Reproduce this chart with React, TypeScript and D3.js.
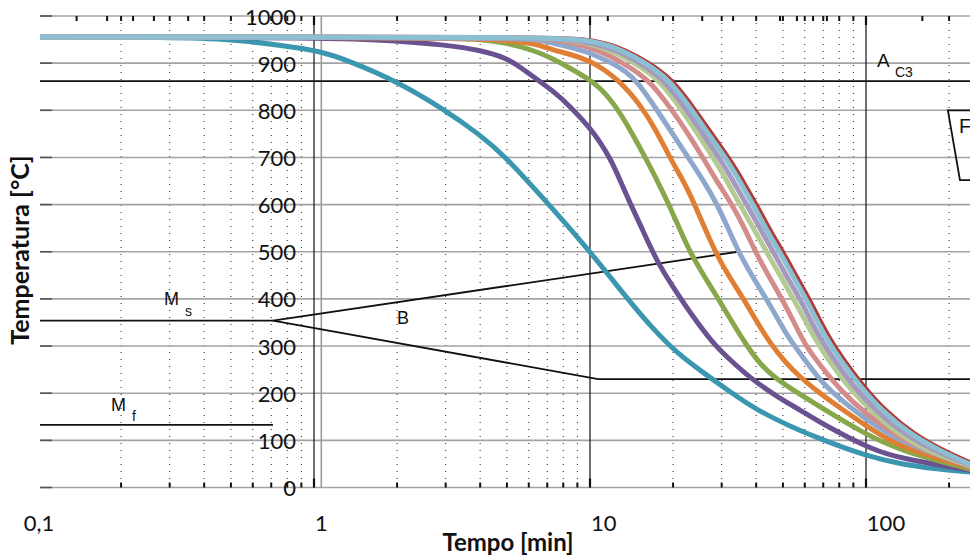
import React from "react";
import * as d3 from "d3";

// ---- data ----
const yTicks = [0, 100, 200, 300, 400, 500, 600, 700, 800, 900, 1000];
const xMajor = [0.1, 1, 10, 100];
const xMajorLabels = ["0,1", "1", "10", "100"];
const minorMultipliers = [2, 3, 4, 5, 6, 7, 8, 9];
const topExtraTicks = [0.138, 0.178, 0.221, 0.263, 0.35, 11.6, 18.4, 25.5, 33, 48.8, 56.2, 64.3, 72.2, 160];

const Ac3 = 862;
const MsTemp = 354;
const MfTemp = 133;
const MsEndTime = 0.71;
const bainiteUpper: [number, number][] = [[0.71, 354], [34.4, 500]];
const bainiteLower: [number, number][] = [[0.71, 354], [10.7, 230], [300, 230]];
const ferriteBox: [number, number][] = [[300, 800], [198, 800], [219, 652], [300, 652]];

type Pt = [number, number];
const teal: Pt[] = [[0.1, 955.5], [0.301, 955], [0.509, 951], [0.772, 937], [1.051, 926], [1.35, 904], [1.99, 862], [2.958, 802], [3.995, 748], [4.92, 703], [6.81, 612], [9.84, 506], [13.5, 404], [16.92, 336], [20.84, 283], [25.67, 244], [31.62, 206], [40.28, 164], [53.04, 130], [68.13, 103], [100, 67], [132.8, 50], [180, 39], [245, 32]];
const purple: Pt[] = [[0.1, 955.5], [1.2, 954.4], [1.99, 947.6], [3.008, 938.5], [3.995, 927.9], [4.99, 910.9], [5.58, 891.8], [6.48, 864.3], [7.34, 840.9], [8.46, 809.1], [10, 762.5], [10.87, 732.8], [11.82, 698.8], [12.85, 652.2], [13.96, 603.4], [15.18, 558.8], [17.49, 478.3], [20.32, 418.9], [23.62, 362.2], [27.67, 308.6], [31.36, 276.8], [37.98, 232.2], [47.6, 192.6], [57.67, 164.4], [72.23, 129], [106, 79.5], [132.8, 61.9], [245, 35]];
const green: Pt[] = [[0.1, 955.5], [3.008, 954.4], [3.995, 951.2], [4.99, 942.7], [5.58, 935.3], [6.48, 923.6], [7.34, 908.8], [8.46, 889.7], [10, 864.3], [10.87, 847.3], [11.82, 824], [12.85, 794.3], [14.2, 751.9], [15.82, 701], [17.64, 647.9], [19.5, 594.9], [21.19, 546.1], [23.03, 499.5], [25.88, 448.6], [29.09, 401.3], [32.7, 351], [37.05, 300.1], [41.3, 261.9], [46.8, 232.2], [56.7, 200], [74.07, 158], [95.12, 119.8], [132.8, 77.4], [245, 37]];
const orange: Pt[] = [[0.1, 955.5], [3.995, 954.4], [5.58, 945.5], [6.59, 938.5], [7.34, 927.9], [8.46, 919.4], [10, 904.6], [11.33, 885.5], [12.85, 860], [13.96, 836.7], [15.18, 811.2], [17.2, 762.5], [19.5, 698.8], [21.19, 662.8], [23.03, 622.5], [25.03, 573.7], [27.21, 524.9], [29.58, 480.4], [32.7, 438], [35.84, 401.9], [40.28, 351], [44.9, 306.5], [50.87, 266.2], [57.67, 234.4], [67, 202.5], [82.54, 164.4], [99.2, 132.6], [119.2, 102.9], [144.3, 79.5], [245, 40]];
const steel: Pt[] = [[0.1, 955.5], [5, 954.4], [6.59, 949.1], [7.34, 942.7], [8.46, 934.3], [10, 921.5], [10.87, 912], [12.02, 900.3], [13.39, 883.4], [14.8, 862.1], [17.49, 800.6], [19.82, 751.9], [22.65, 700.9], [25.67, 652.2], [28.85, 601.3], [31.62, 550.4], [34.39, 501.6], [38.63, 448.6], [43.79, 397.7], [48.4, 353.1], [53.04, 312.8], [60.12, 270.4], [68.13, 228], [75.94, 200.4], [87.5, 170.7], [103.4, 138.9], [127.4, 105], [156.9, 81.7], [245, 42]];
const pink: Pt[] = [[0.1, 955.5], [6.06, 954.4], [7.79, 949.1], [10, 934.3], [11.82, 915.2], [13.96, 891.8], [16.5, 862.1], [19.82, 800.6], [22.46, 754], [25.46, 703.1], [28.6, 652.2], [32.97, 597], [36.43, 548.2], [39.6, 501.6], [44.16, 450.7], [49.6, 399.8], [54.83, 351], [60.12, 302.2], [68.13, 259.8], [81.85, 202.5], [99.2, 158], [132.8, 105], [170.6, 75.3], [245, 43]];
const lightGreen: Pt[] = [[0.1, 955.5], [6.59, 954.4], [8.46, 949.1], [10.87, 936.4], [12.85, 917.3], [15.18, 894], [17.93, 862.1], [21.54, 800.6], [24.42, 751.9], [27.9, 700.9], [31.36, 650], [34.95, 599.2], [39.28, 548.2], [43.79, 497.3], [49.2, 446.5], [54.83, 397.7], [60.12, 355.2], [65.35, 315], [74.07, 266.2], [86.79, 211], [107.8, 153.8], [137.3, 105], [177.8, 71], [245, 44]];
const lavender: Pt[] = [[0.1, 955.5], [7.16, 954.4], [9.2, 948], [11.82, 933.2], [13.96, 913], [16.22, 889.7], [18.7, 862.1], [22.46, 800.6], [25.67, 749.7], [29.58, 696.7], [33.53, 643.7], [37.37, 594.9], [41.65, 546.1], [46.42, 497.3], [51.73, 446.5], [57.67, 399.8], [62.68, 357.4], [68.13, 317.1], [77.22, 268.3], [89.73, 215.3], [110.5, 158], [140.8, 109.2], [180.8, 75.3], [245, 45]];
const lightBlue: Pt[] = [[0.1, 955.5], [7.79, 955.5], [10, 948], [12.32, 934.3], [14.56, 913], [16.92, 889.7], [19.5, 862.1], [23.42, 800.6], [27, 747.6], [31.36, 694.6], [35.53, 641.6], [39.6, 592.8], [43.79, 544], [49.2, 495.2], [54.83, 444.3], [60.62, 399.8], [65.9, 357.4], [71.63, 317.1], [81.18, 268.3], [94.33, 217.4], [115.2, 160.1], [144.3, 113.5], [185.4, 77.4], [245, 46]];
const redEdge: Pt[] = [[0.1, 955.5], [8, 955.5], [10.25, 948], [12.63, 934.3], [14.93, 913], [17.35, 889.7], [20, 862.1], [24, 800.6], [27.7, 747.6], [32.15, 694.6], [36.43, 641.6], [40.6, 592.8], [44.9, 544], [50.44, 495.2], [56.2, 444.3], [62.15, 399.8], [67.57, 357.4], [73.45, 317.1], [83.23, 268.3], [96.7, 217.4], [118.1, 160.1], [148, 113.5], [190, 77.4], [250, 47]];

const curves: { data: Pt[]; color: string; width: number }[] = [
  { data: redEdge, color: "#b23a36", width: 5 },
  { data: teal, color: "#3b97b0", width: 5 },
  { data: purple, color: "#6a5190", width: 5 },
  { data: green, color: "#86a74a", width: 5 },
  { data: orange, color: "#e07f33", width: 5 },
  { data: steel, color: "#8ea7cd", width: 5 },
  { data: pink, color: "#d48c8b", width: 5 },
  { data: lightGreen, color: "#b3ca91", width: 5 },
  { data: lavender, color: "#a699c0", width: 5 },
  { data: lightBlue, color: "#8bc0d3", width: 5 },
];

const W = 970;
const H = 558;
const plotLeft = 40;
const plotRight = 970;

export default function App() {
  const x = d3.scaleLog().domain([0.1, 100]).range([38, 866]);
  const xLab = d3.scaleLog().domain([0.1, 100]).range([39, 886]);
  const y = d3.scaleLinear().domain([0, 1000]).range([487.5, 16]);
  const line = d3
    .line<Pt>()
    .x((d) => x(d[0]))
    .y((d) => y(d[1]))
    .curve(d3.curveBasis);
  const straight = d3
    .line<Pt>()
    .x((d) => x(d[0]))
    .y((d) => y(d[1]));

  const minors: number[] = [];
  xMajor.forEach((m) =>
    minorMultipliers.forEach((k) => {
      const v = m * k;
      if (x(v) < plotRight) minors.push(v);
    })
  );

  const yTop = y(1000);
  const yBot = y(0);
  const font = "Lato, 'Open Sans', sans-serif";
  const arial = "'Liberation Sans', Arial, sans-serif";

  return (
    <svg width={W} height={H} style={{ position: "absolute", left: 0, top: 0, background: "#fff" }}>
      <defs>
        <clipPath id="plot">
          <rect x={plotLeft} y={0} width={plotRight - plotLeft} height={H} />
        </clipPath>
      </defs>
      {/* dotted minor verticals */}
      {minors.map((v, i) => (
        <line key={"dv" + i} x1={x(v)} x2={x(v)} y1={yTop} y2={yBot} stroke="#222" strokeWidth={1} strokeDasharray="1 6" />
      ))}
      {/* horizontal gridlines */}
      {yTicks.map((t) => (
        <line key={"hg" + t} x1={plotLeft} x2={plotRight} y1={y(t)} y2={y(t)} stroke="#a3a3a3" strokeWidth={1.6} />
      ))}
      {yTicks.map((t) => (
        <line key={"hl" + t} x1={plotLeft} x2={plotLeft + 12} y1={y(t)} y2={y(t)} stroke="#555" strokeWidth={1.6} />
      ))}
      {/* decade lines */}
      {xMajor.slice(1).map((v) => (
        <line key={"mv" + v} x1={x(v)} x2={x(v)} y1={yTop} y2={yBot} stroke="#111" strokeWidth={1.2} />
      ))}
      <line x1={xLab(1)} x2={xLab(1)} y1={yTop} y2={yBot} stroke="#9a9a9a" strokeWidth={1.6} />
      {/* top/bottom ticks */}
      {minors.concat(topExtraTicks).map((v, i) => (
        <line key={"tt" + i} x1={x(v)} x2={x(v)} y1={yTop} y2={yTop + 5} stroke="#111" strokeWidth={2} />
      ))}
      {minors.map((v, i) => (
        <line key={"bt" + i} x1={x(v)} x2={x(v)} y1={yBot - 5} y2={yBot} stroke="#111" strokeWidth={2} />
      ))}
      {xMajor.slice(1).map((v) => (
        <g key={"mt" + v}>
          <line x1={x(v)} x2={x(v)} y1={yTop} y2={yTop + 9} stroke="#111" strokeWidth={2.2} />
          <line x1={x(v)} x2={x(v)} y1={yBot - 9} y2={yBot} stroke="#111" strokeWidth={2.2} />
        </g>
      ))}
      {/* Ac3 line */}
      <line x1={plotLeft} x2={plotRight} y1={y(Ac3)} y2={y(Ac3)} stroke="#111" strokeWidth={1.8} />
      {/* Ms, Mf */}
      <line x1={plotLeft} x2={x(MsEndTime)} y1={y(MsTemp)} y2={y(MsTemp)} stroke="#111" strokeWidth={1.8} />
      <line x1={plotLeft} x2={x(MsEndTime)} y1={y(MfTemp)} y2={y(MfTemp)} stroke="#111" strokeWidth={1.8} />
      <g clipPath="url(#plot)">
        <path d={straight(bainiteUpper) || ""} fill="none" stroke="#111" strokeWidth={1.8} />
        <path d={straight(bainiteLower) || ""} fill="none" stroke="#111" strokeWidth={1.8} />
        <path d={straight(ferriteBox) || ""} fill="none" stroke="#111" strokeWidth={1.8} />
        {curves.map((c, i) => (
          <path key={"c" + i} d={line(c.data) || ""} fill="none" stroke={c.color} strokeWidth={c.width} strokeLinejoin="round" />
        ))}
      </g>
      {/* y tick labels */}
      {yTicks.map((t) => (
        <text key={"yl" + t} x={296} y={y(t) + 8.5} textAnchor="end" fontFamily={font} fontSize={22} fill="#111">
          {t}
        </text>
      ))}
      {/* x labels */}
      {xMajor.map((v, i) => (
        <text key={"xl" + v} x={xLab(v)} y={531} textAnchor="middle" fontFamily={font} fontSize={22} fill="#111">
          {xMajorLabels[i]}
        </text>
      ))}
      <text x={508} y={551} textAnchor="middle" fontFamily={font} fontWeight="bold" fontSize={24} fill="#111">
        Tempo [min]
      </text>
      <text transform="translate(29,250) rotate(-90)" textAnchor="middle" fontFamily={font} fontWeight="bold" fontSize={25} fill="#111">
        Temperatura [°C]
      </text>
      {/* annotations */}
      <text x={164} y={305} fontFamily={arial} fontSize={18} fill="#111">M</text>
      <text x={185} y={316} fontFamily={arial} fontSize={14} fill="#111">s</text>
      <text x={111} y={411} fontFamily={arial} fontSize={18} fill="#111">M</text>
      <text x={132} y={421} fontFamily={arial} fontSize={14} fill="#111">f</text>
      <text x={397} y={324} fontFamily={arial} fontSize={18} fill="#111">B</text>
      <text x={877} y={67} fontFamily={arial} fontSize={19} fill="#111">A</text>
      <text x={895} y={77} fontFamily={arial} fontSize={14} fill="#111">C3</text>
      <text x={959} y={133} fontFamily={arial} fontSize={20} fill="#111">F</text>
    </svg>
  );
}
